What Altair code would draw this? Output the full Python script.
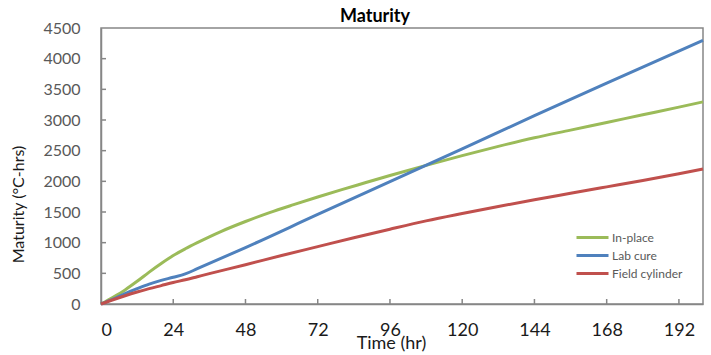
import altair as alt
import pandas as pd

# In-place
t_in = [0, 4, 8, 12, 16, 20, 24, 28, 32, 36, 40, 48, 56, 64, 72, 80, 88, 96, 108, 120, 132, 144, 156, 168, 180, 192, 200]
v_in = [0, 110, 230, 370, 520, 660, 790, 900, 1000, 1095, 1185, 1345, 1490, 1620, 1745, 1865, 1980, 2095, 2260, 2420, 2570, 2710, 2835, 2960, 3085, 3210, 3295]

# Lab cure
t_lab = [0, 4, 8, 12, 16, 20, 24, 28, 32, 48, 72, 96, 120, 144, 168, 200]
v_lab = [0, 80, 170, 250, 325, 385, 435, 490, 575, 920, 1460, 1995, 2530, 3070, 3600, 4300]

# Field cylinder
t_fc = [0, 4, 8, 12, 16, 20, 24, 28, 32, 36, 48, 60, 72, 84, 96, 108, 120, 132, 144, 156, 168, 180, 192, 200]
v_fc = [0, 70, 135, 195, 250, 300, 350, 395, 445, 495, 640, 790, 935, 1080, 1220, 1355, 1475, 1590, 1700, 1805, 1910, 2015, 2125, 2200]

series = ["In-place", "Lab cure", "Field cylinder"]
colors = ["#9BBB59", "#4F81BD", "#C0504D"]

x_ticks = [0, 24, 48, 72, 96, 120, 144, 168, 192]
y_ticks = [0, 500, 1000, 1500, 2000, 2500, 3000, 3500, 4000, 4500]

rows = []
for name, ts, vs in zip(series, [t_in, t_lab, t_fc], [v_in, v_lab, v_fc]):
    for t, v in zip(ts, vs):
        rows.append({"series": name, "t": t, "v": v})
df = pd.DataFrame(rows)

W, H = 602, 276
FONT = "Lato"

xscale = alt.Scale(domain=[0, 200], nice=False, zero=True)
yscale = alt.Scale(domain=[0, 4500], nice=False)

xaxis = alt.Axis(values=x_ticks, ticks=False, grid=False, title="Time (hr)",
                 format="d", labelOverlap=False,
                 labelFontSize=18, labelColor="#1a1a1a", labelPadding=17,
                 domainColor="#868686", domainWidth=1.5,
                 titleFontSize=18, titleFontWeight="normal", titleColor="#1a1a1a",
                 titleX=290, titleY=44, titleBaseline="alphabetic")
yaxis = alt.Axis(values=y_ticks, ticks=False, grid=False, title="Maturity (°C-hrs)",
                 format="d", labelOverlap=False, labelBound=False,
                 labelFontSize=16, labelColor="#595959", labelPadding=21,
                 domainColor="#868686", domainWidth=1.5,
                 titleFontSize=16, titleFontWeight="normal", titleColor="#1a1a1a",
                 titleX=-83, titleY=176, titleBaseline="middle")

lines = alt.Chart(df).mark_line(strokeWidth=3, interpolate="monotone").encode(
    x=alt.X("t:Q", scale=xscale, axis=xaxis, title="Time (hr)"),
    y=alt.Y("v:Q", scale=yscale, axis=yaxis, title="Maturity (°C-hrs)"),
    color=alt.Color("series:N", sort=series,
                    scale=alt.Scale(domain=series, range=colors),
                    legend=alt.Legend(title=None, orient="none", legendX=482, legendY=200,
                                      symbolType="M-2,0H2", symbolStrokeWidth=3, symbolSize=256,
                                      symbolFillColor="transparent",
                                      labelFontSize=12, labelColor="#595959", labelFont=FONT,
                                      labelOffset=10, rowPadding=2, padding=0)),
)

xt = alt.Chart(pd.DataFrame({"t": x_ticks[1:]})).mark_rule(color="#868686", strokeWidth=1.5).encode(
    x=alt.X("t:Q", scale=xscale, axis=xaxis, title="Time (hr)"), y=alt.value(H), y2=alt.value(H - 5)
)
yt = alt.Chart(pd.DataFrame({"v": y_ticks[1:-1]})).mark_rule(color="#868686", strokeWidth=1.5).encode(
    y=alt.Y("v:Q", scale=yscale, axis=yaxis, title="Maturity (°C-hrs)"), x=alt.value(0), x2=alt.value(5)
)

chart = alt.layer(lines, xt, yt).properties(
    width=W, height=H,
    title=alt.TitleParams("Maturity", fontSize=18, fontWeight="bold", font=FONT, color="#000000",
                          anchor="middle", dx=-27, dy=26, offset=6, baseline="alphabetic"),
    autosize=alt.AutoSizeParams(type="none"),
    padding={"left": 101, "top": 28, "right": 8, "bottom": 51},
).configure(font=FONT, background="white").configure_view(stroke="#868686", strokeWidth=1.5)

chart.save("out.html", embed_options={"renderer": "svg", "actions": False})
